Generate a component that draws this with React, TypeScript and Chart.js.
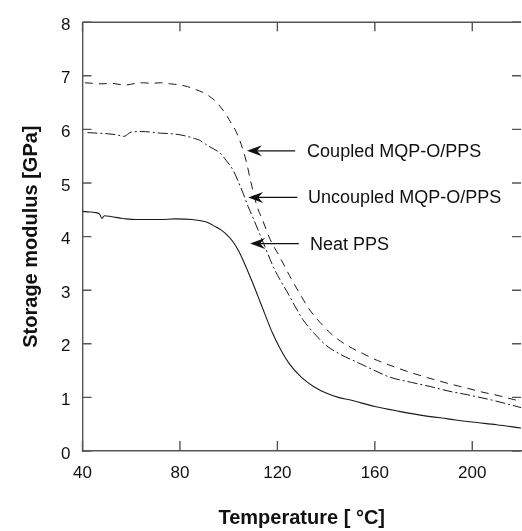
import React, { useEffect, useRef } from 'react';
import { Chart, registerables } from 'chart.js';

Chart.register(...registerables);

// ---- data ----
const coupledT = [41, 44, 48, 52, 55, 58, 62, 65, 68, 72, 76, 80, 83, 86, 89.5, 92, 95, 97, 99.3, 101, 102.6, 104.5, 106, 107.5, 108.8, 110, 111.6, 114, 117, 121, 125, 129, 133, 137.5, 143, 149, 155, 161, 168, 175, 183, 191, 198, 204, 211, 217, 220];
const coupledE = [6.87, 6.86, 6.85, 6.86, 6.84, 6.83, 6.86, 6.87, 6.86, 6.87, 6.85, 6.83, 6.8, 6.75, 6.69, 6.62, 6.51, 6.4, 6.25, 6.12, 6.0, 5.8, 5.6, 5.35, 5.08, 4.85, 4.57, 4.3, 3.95, 3.62, 3.27, 2.95, 2.65, 2.4, 2.15, 1.96, 1.82, 1.69, 1.57, 1.46, 1.35, 1.25, 1.17, 1.1, 1.03, 0.96, 0.93];

const uncoupledT = [42, 46, 50, 54, 57, 60, 64, 68, 72, 76, 80, 83, 86, 88, 91, 94, 96.4, 99, 101.8, 104, 106, 108, 110, 112, 115, 118, 121, 124, 127, 130.5, 135, 140, 146, 153, 160, 166, 175, 183, 190, 198, 208, 215, 220];
const uncoupledE = [5.94, 5.93, 5.92, 5.9, 5.87, 5.95, 5.96, 5.95, 5.93, 5.92, 5.9, 5.87, 5.83, 5.8, 5.71, 5.63, 5.56, 5.42, 5.24, 5.02, 4.8, 4.56, 4.35, 4.13, 3.8, 3.47, 3.2, 2.97, 2.72, 2.45, 2.2, 1.97, 1.8, 1.65, 1.5, 1.38, 1.28, 1.2, 1.12, 1.05, 0.95, 0.87, 0.81];

const neatT = [40, 43, 45, 47, 48, 49, 52, 55, 58, 62, 66, 72, 78, 85, 88, 90, 92, 94, 97, 100, 102, 104, 106, 108, 110, 112, 115, 118, 121, 125, 130, 135, 140, 145, 150, 160, 170, 180, 190, 200, 210, 220];
const neatE = [4.47, 4.46, 4.45, 4.42, 4.34, 4.39, 4.37, 4.35, 4.33, 4.32, 4.32, 4.32, 4.33, 4.32, 4.3, 4.28, 4.25, 4.2, 4.12, 4.0, 3.89, 3.74, 3.55, 3.34, 3.12, 2.89, 2.54, 2.2, 1.92, 1.62, 1.37, 1.2, 1.08, 1.0, 0.95, 0.83, 0.74, 0.66, 0.6, 0.54, 0.49, 0.43];

const xTickValues = [40, 80, 120, 160, 200];
const yTickValues = [0, 1, 2, 3, 4, 5, 6, 7, 8];
const xTitle = 'Temperature [ °C]';
const yTitle = 'Storage modulus [GPa]';

// annotation labels with arrows (data coordinates)
const annotLabels = ['Coupled MQP-O/PPS', 'Uncoupled MQP-O/PPS', 'Neat PPS'];
const annotTipT = [107.5, 108, 108.8];
const annotTipE = [5.6, 4.73, 3.87];
const annotTailT = [127.3, 128.2, 128.8];
const annotTextT = [132.2, 132.6, 133.4];

const FONT = '"Liberation Sans", Arial, Helvetica, sans-serif';
const AXIS_COLOR = '#555';
const LINE_COLOR = '#1a1a1a';

const toPts = (t: number[], e: number[]) => t.map((v, i) => ({ x: v, y: e[i] }));

const framePlugin = {
  id: 'framePlugin',
  afterDraw(chart: any) {
    const { ctx, chartArea, scales } = chart;
    const { left, right, top, bottom } = chartArea;
    const xs = scales.x;
    const ys = scales.y;
    ctx.save();
    ctx.strokeStyle = AXIS_COLOR;
    ctx.lineWidth = 1.4;
    // top border
    ctx.beginPath();
    ctx.moveTo(left, top);
    ctx.lineTo(right, top);
    ctx.stroke();
    // inner ticks
    ctx.beginPath();
    yTickValues.forEach((v) => {
      const py = ys.getPixelForValue(v);
      ctx.moveTo(left, py);
      ctx.lineTo(left + 9, py);
      ctx.moveTo(right - 9, py);
      ctx.lineTo(right, py);
    });
    xTickValues.forEach((v) => {
      const px = xs.getPixelForValue(v);
      ctx.moveTo(px, bottom);
      ctx.lineTo(px, bottom - 10);
      ctx.moveTo(px, top);
      ctx.lineTo(px, top + 9);
    });
    ctx.stroke();

    // annotations
    ctx.strokeStyle = '#111';
    ctx.fillStyle = '#111';
    ctx.lineWidth = 1.2;
    annotLabels.forEach((label, i) => {
      const tipX = xs.getPixelForValue(annotTipT[i]);
      const tipY = ys.getPixelForValue(annotTipE[i]);
      const tailX = xs.getPixelForValue(annotTailT[i]);
      ctx.beginPath();
      ctx.moveTo(tipX + 8, tipY);
      ctx.lineTo(tailX, tipY);
      ctx.stroke();
      ctx.beginPath();
      ctx.moveTo(tipX, tipY);
      ctx.lineTo(tipX + 15, tipY - 5.5);
      ctx.lineTo(tipX + 10, tipY);
      ctx.lineTo(tipX + 15, tipY + 5.5);
      ctx.closePath();
      ctx.fill();
      ctx.font = `18px ${FONT}`;
      ctx.textAlign = 'left';
      ctx.textBaseline = 'middle';
      ctx.fillText(label, xs.getPixelForValue(annotTextT[i]), tipY + 1);
    });
    ctx.restore();
  },
};

export default function App() {
  const ref = useRef<HTMLCanvasElement | null>(null);
  useEffect(() => {
    if (!ref.current) return;
    const chart = new Chart(ref.current, {
      type: 'line',
      data: {
        datasets: [
          {
            label: 'Coupled MQP-O/PPS',
            data: toPts(coupledT, coupledE),
            borderColor: LINE_COLOR,
            borderWidth: 1,
            borderDash: [8, 6],
            pointRadius: 0,
            fill: false,
            cubicInterpolationMode: 'monotone',
          },
          {
            label: 'Uncoupled MQP-O/PPS',
            data: toPts(uncoupledT, uncoupledE),
            borderColor: LINE_COLOR,
            borderWidth: 1,
            borderDash: [10, 3, 2, 3],
            pointRadius: 0,
            fill: false,
            cubicInterpolationMode: 'monotone',
          },
          {
            label: 'Neat PPS',
            data: toPts(neatT, neatE),
            borderColor: LINE_COLOR,
            borderWidth: 1.1,
            pointRadius: 0,
            fill: false,
            cubicInterpolationMode: 'monotone',
          },
        ],
      },
      options: {
        animation: false,
        responsive: false,
        events: [],
        layout: { padding: { top: 11, right: 1, left: 0, bottom: 0 } },
        plugins: {
          legend: { display: false },
          tooltip: { enabled: false },
        },
        scales: {
          x: {
            type: 'linear',
            min: 40,
            max: 220,
            afterBuildTicks: (scale: any) => {
              scale.ticks = xTickValues.map((v) => ({ value: v }));
            },
            afterFit: (scale: any) => {
              scale.height = 80;
            },
            ticks: {
              font: { family: FONT, size: 17 },
              color: '#111',
              padding: 12,
              maxRotation: 0,
            },
            grid: { display: false, drawTicks: false },
            border: { display: true, color: AXIS_COLOR, width: 1.4 },
            title: {
              display: true,
              text: xTitle,
              font: { family: FONT, size: 20, weight: 'bold' },
              color: '#111',
              padding: { top: 0, bottom: 1 },
            },
          },
          y: {
            type: 'linear',
            min: 0,
            max: 8,
            afterBuildTicks: (scale: any) => {
              scale.ticks = yTickValues.map((v) => ({ value: v }));
            },
            afterFit: (scale: any) => {
              scale.width = 82.5;
            },
            ticks: {
              font: { family: FONT, size: 17 },
              color: '#111',
              padding: 12,
              labelOffset: 3,
            },
            grid: { display: false, drawTicks: false },
            border: { display: true, color: AXIS_COLOR, width: 1.4 },
            title: {
              display: true,
              text: yTitle,
              font: { family: FONT, size: 20, weight: 'bold' },
              color: '#111',
              padding: { top: 19, bottom: 0 },
            },
          },
        },
      },
      plugins: [framePlugin],
    } as any);
    return () => chart.destroy();
  }, []);

  return (
    <div style={{ position: 'absolute', left: 0, top: 0, width: 522, height: 531, background: '#fff' }}>
      <canvas ref={ref} width={522} height={531} />
    </div>
  );
}
